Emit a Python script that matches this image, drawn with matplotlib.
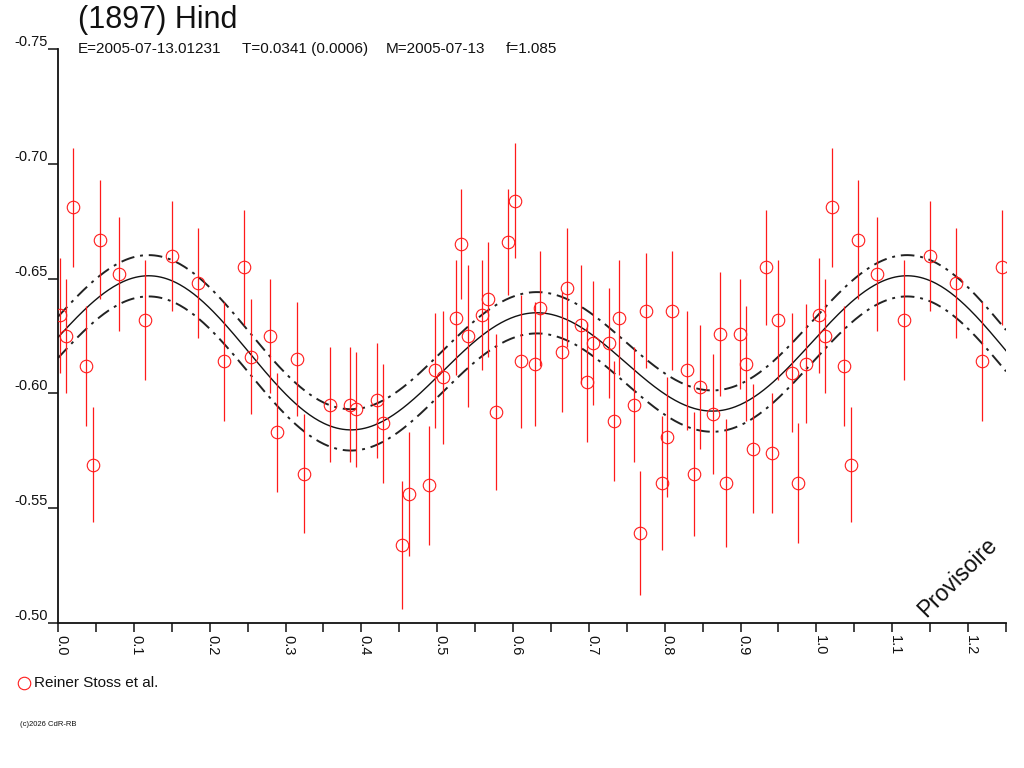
import numpy as np
import matplotlib
matplotlib.use('Agg')
import matplotlib.pyplot as plt
import matplotlib.transforms as mtransforms

plt.rcParams['font.family'] = ['Liberation Sans', 'DejaVu Sans']

# phase / reduced magnitude / error (Reiner Stoss et al.)
phase = [0.003, 0.011, 0.020, 0.037, 0.046, 0.055, 0.080, 0.115, 0.150, 0.184,
         0.219, 0.245, 0.254, 0.280, 0.289, 0.315, 0.324, 0.358, 0.385, 0.393,
         0.420, 0.428, 0.454, 0.463, 0.489, 0.497, 0.507, 0.525, 0.532, 0.541,
         0.559, 0.567, 0.577, 0.594, 0.602, 0.611, 0.629, 0.636, 0.664, 0.671,
         0.690, 0.698, 0.705, 0.726, 0.733, 0.740, 0.760, 0.768, 0.775, 0.796,
         0.803, 0.810, 0.829, 0.838, 0.846, 0.864, 0.873, 0.881, 0.899, 0.907,
         0.916, 0.934, 0.942, 0.949, 0.968, 0.976, 0.986]
mag = [-0.634, -0.625, -0.681, -0.612, -0.569, -0.667, -0.652, -0.632, -0.660, -0.648,
       -0.614, -0.655, -0.616, -0.625, -0.583, -0.615, -0.565, -0.595, -0.595, -0.593,
       -0.597, -0.587, -0.534, -0.556, -0.560, -0.610, -0.607, -0.633, -0.665, -0.625,
       -0.634, -0.641, -0.592, -0.666, -0.684, -0.614, -0.613, -0.637, -0.618, -0.646,
       -0.630, -0.605, -0.622, -0.622, -0.588, -0.633, -0.595, -0.539, -0.636, -0.561,
       -0.581, -0.636, -0.610, -0.565, -0.603, -0.591, -0.626, -0.561, -0.626, -0.613,
       -0.576, -0.655, -0.574, -0.632, -0.609, -0.561, -0.613]
err = [0.025, 0.025, 0.026, 0.026, 0.025, 0.026, 0.025, 0.026, 0.024, 0.024,
       0.026, 0.025, 0.025, 0.025, 0.026, 0.025, 0.026, 0.025, 0.025, 0.025,
       0.025, 0.026, 0.028, 0.027, 0.026, 0.025, 0.029, 0.025, 0.024, 0.031,
       0.024, 0.025, 0.034, 0.023, 0.025, 0.029, 0.027, 0.025, 0.026, 0.026,
       0.026, 0.026, 0.027, 0.024, 0.026, 0.025, 0.025, 0.027, 0.025, 0.029,
       0.026, 0.026, 0.026, 0.027, 0.027, 0.026, 0.027, 0.028, 0.024, 0.025,
       0.028, 0.025, 0.026, 0.026, 0.026, 0.026, 0.026]

# Fourier fit (harmonics 1, 2)
fit_c0 = -0.6158
fit_cos = [-0.0086, 0.0]
fit_sin = [-0.0028, -0.0273]
fit_sigma = 0.009

phase_max = 1.25

# repeat the first part of the phase after 1.0
ph = np.array(phase)
mg = np.array(mag)
er = np.array(err)
rep = ph + 1 <= phase_max
ph_all = np.concatenate([ph, ph[rep] + 1])
mg_all = np.concatenate([mg, mg[rep]])
er_all = np.concatenate([er, er[rep]])

x = np.linspace(0, phase_max, 600)
model = np.full_like(x, fit_c0)
for k in range(len(fit_cos)):
    model += fit_cos[k] * np.cos(2 * np.pi * (k + 1) * x) + fit_sin[k] * np.sin(2 * np.pi * (k + 1) * x)

fig = plt.figure(figsize=(10.24, 7.68), dpi=100)
ax = fig.add_axes([58 / 1024, 1 - 623 / 768, (1006 - 58) / 1024, (623 - 49) / 768])

ax.plot(x, model, color='#111111', lw=1.0, zorder=2)
ax.plot(x, model - fit_sigma, color='#222222', lw=1.4, ls=(0, (7, 3, 1.5, 3)), zorder=2)
ax.plot(x, model + fit_sigma, color='#222222', lw=1.4, ls=(0, (7, 3, 1.5, 3)), zorder=2)

ax.errorbar(ph_all, mg_all, yerr=er_all, fmt='o', ms=9, mfc='none', mec='#ff1a1a', mew=0.8,
            ecolor='#ff1a1a', elinewidth=0.9, capsize=0, zorder=3)

ax.set_xlim(0, phase_max)
ax.set_ylim(-0.50, -0.75)

for s in ['top', 'right']:
    ax.spines[s].set_visible(False)
for s in ['left', 'bottom']:
    ax.spines[s].set_linewidth(1.3)
    ax.spines[s].set_color('#111111')

ax.set_yticks([-0.75, -0.70, -0.65, -0.60, -0.55, -0.50])
ax.set_yticklabels(['-0.75', '-0.70', '-0.65', '-0.60', '-0.55', '-0.50'])
ax.tick_params(axis='y', direction='out', length=7.5, width=1.1, pad=0, labelsize=10.5, colors='#111111')
for lab in ax.get_yticklabels():
    lab.set_verticalalignment('bottom')

xt = np.round(np.arange(0, 1.21, 0.1), 1)
ax.set_xticks(xt)
ax.set_xticklabels([f'{v:.1f}' for v in xt], rotation=-90)
ax.set_xticks(np.round(np.arange(0.05, 1.26, 0.1), 2), minor=True)
ax.tick_params(axis='x', which='both', direction='out', length=6.5, width=1.1, pad=2,
               labelsize=10.5, colors='#111111')
shift = mtransforms.ScaledTranslation(3 / 100, 0, fig.dpi_scale_trans)
for lab in ax.get_xticklabels():
    lab.set_transform(lab.get_transform() + shift)

# titles
fig.text(78 / 1024, 1 - 20 / 768, '(1897) Hind', fontsize=22, va='center', ha='left', color='#111111')
fig.text(78 / 1024, 1 - 49 / 768, 'E=2005-07-13.01231', fontsize=11, va='center', color='#111111')
fig.text(242 / 1024, 1 - 49 / 768, 'T=0.0341 (0.0006)', fontsize=11, va='center', color='#111111')
fig.text(386 / 1024, 1 - 49 / 768, 'M=2005-07-13', fontsize=11, va='center', color='#111111')
fig.text(506 / 1024, 1 - 49 / 768, 'f=1.085', fontsize=11, va='center', color='#111111')

ax.text(958 / 1024, 1 - 577 / 768, 'Provisoire', transform=fig.transFigure, fontsize=16.5,
        rotation=45, ha='center', va='center', color='#111111')

# legend
fig.lines.append(plt.Line2D([24 / 1024], [1 - 683 / 768], transform=fig.transFigure, marker='o',
                            ms=9, mfc='none', mec='#ff1a1a', mew=0.8, ls='none'))
fig.text(34 / 1024, 1 - 683 / 768, 'Reiner Stoss et al.', fontsize=11, va='center', color='#111111')
fig.text(20 / 1024, 1 - 724 / 768, '(c)2026 CdR-RB', fontsize=5.5, va='center', color='#111111')

fig.savefig('out.png', dpi=100)
